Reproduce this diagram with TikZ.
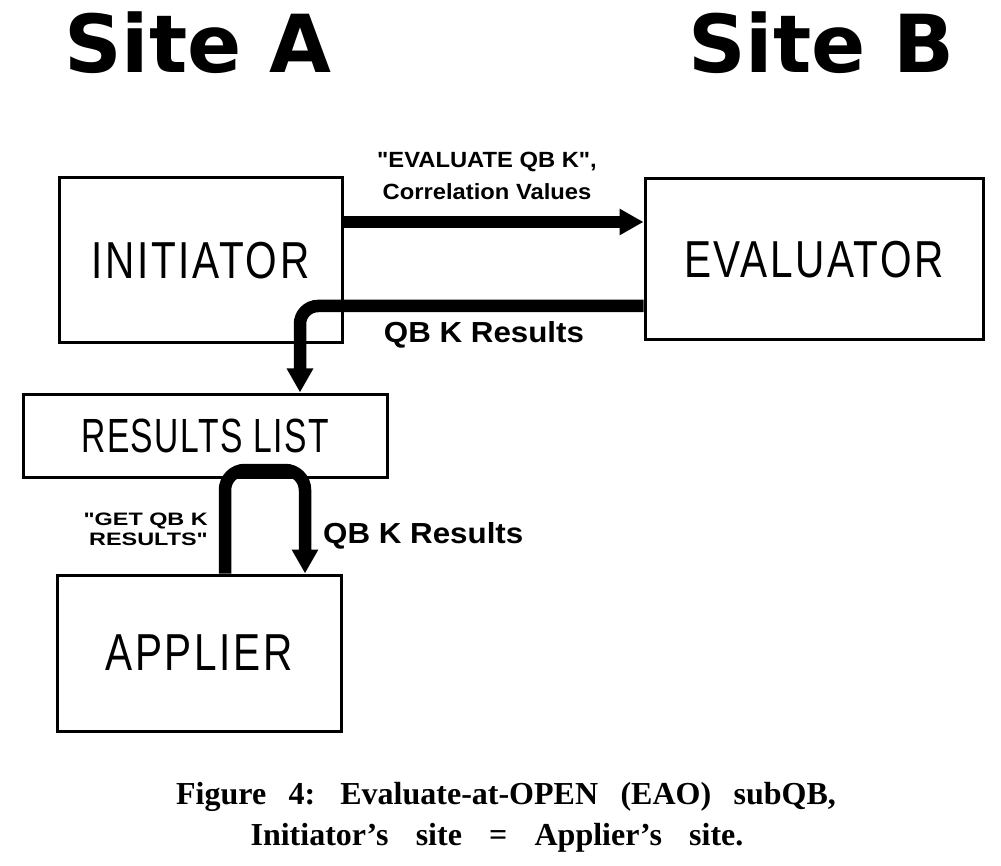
\documentclass[tikz,border=0pt]{standalone}
\usepackage{fontspec}
\setmainfont{Liberation Serif}
\newfontfamily\boxfont[FakeStretch=0.78,LetterSpace=5]{Liberation Sans}
\newfontfamily\boxfontn[FakeStretch=0.7,LetterSpace=3]{Liberation Sans}
\newfontfamily\labfont[FakeStretch=1.08]{Liberation Sans}
\newfontfamily\labfontw[FakeStretch=1.3]{Liberation Sans}
\newfontfamily\sitefont{DejaVu Sans}
\newfontfamily\capfont{Liberation Serif}
\usetikzlibrary{arrows.meta}
\begin{document}
\begin{tikzpicture}[x=1pt,y=-1pt,
  box/.style={draw, line width=3pt, inner sep=0pt, font=\boxfont\fontsize{52}{60}\selectfont},
  flow/.style={line width=12.5pt, -{Triangle[length=24pt,width=25pt]}},
  labA/.style={inner sep=0pt, font=\labfont\bfseries\fontsize{22}{26}\selectfont},
  labB/.style={inner sep=0pt, font=\labfont\bfseries\fontsize{29}{34}\selectfont},
  labC/.style={inner sep=0pt, font=\labfontw\bfseries\fontsize{18}{22}\selectfont},
  sitelab/.style={inner sep=0pt, anchor=base west, font=\sitefont\bfseries\fontsize{80}{90}\selectfont},
  caplab/.style={inner sep=0pt, anchor=base, font=\capfont\bfseries\fontsize{32}{38}\selectfont}]
\useasboundingbox (0,0) rectangle (1001,866);
\fill[white] (0,0) rectangle (1001,866);

% titles
\node[sitelab] (siteA) at (64,73) {Site A};
\node[sitelab] (siteB) at (688,73) {Site B};

% boxes
\node[box, minimum width=283pt, minimum height=165pt] (ini) at (200.5,260.5) {INITIATOR};
\node[box, minimum width=338pt, minimum height=161pt] (eva) at (814,259.5) {EVALUATOR};
\node[box, minimum width=364pt, minimum height=83pt, font=\boxfontn\fontsize{48}{56}\selectfont] (rl) at (205,435.5) {RESULTS LIST};
\node[box, minimum width=284pt, minimum height=156pt] (app) at (199,653) {APPLIER};

% connectors
\draw[flow] (ini.east |- 0,222) -- (eva.west |- 0,222);
\draw[flow, rounded corners=18pt] (eva.west |- 0,306) -- (300,306) -- (rl.north -| 300,0);
\draw[flow, rounded corners=20pt] (app.north -| 225,0) -- (225,470) -- (305,470) -- (app.north -| 305,0);

% labels
\node[labA, anchor=base] (l1a) at (487,168) {"EVALUATE QB K",};
\node[labA, anchor=base] (l1b) at (487,200) {Correlation Values};
\node[labB, anchor=base] (l2) at (484,343) {QB K Results};
\node[labC, anchor=base east] (l3a) at (208,525) {"GET QB K};
\node[labC, anchor=base east] (l3b) at (208,545) {RESULTS"};
\node[labB, anchor=base west] (l4) at (323,543) {QB K Results};

% caption
\node[caplab] (cap1) at (506,804) {\spaceskip=0.7em Figure 4: Evaluate-at-OPEN (EAO) subQB,};
\node[caplab] (cap2) at (497,845) {\spaceskip=0.85em Initiator’s site = Applier’s site.};
\end{tikzpicture}
\end{document}
